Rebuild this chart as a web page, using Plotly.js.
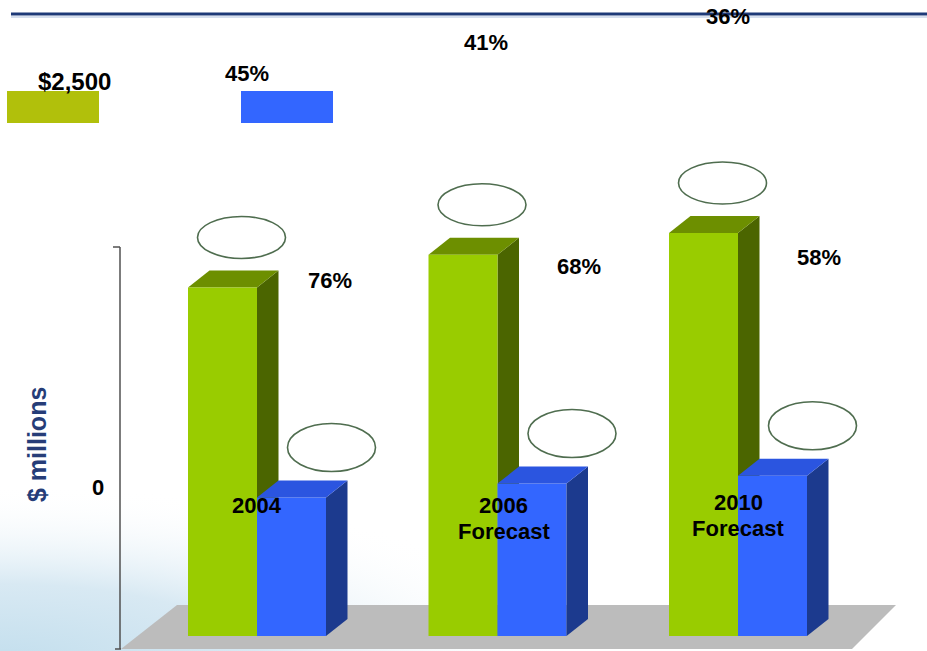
<!DOCTYPE html>
<html>
<head>
<meta charset="utf-8">
<script src="https://cdn.plot.ly/plotly-3.0.1.min.js"></script>
<style>
  html, body { margin: 0; padding: 0; background: #ffffff; }
  #chart { width: 927px; height: 651px; }
</style>
</head>
<body>
<div id="chart"></div>
<script>
// ---- chart data ----
const categories = ['2004', '2006', '2010'];
const categoryLabels = ['2004', '2006<br>Forecast', '2010<br>Forecast'];
const greenValues = [2240, 2450, 2590];   // $ millions
const blueValues = [890, 980, 1030];      // $ millions
const sideLabels = ['76%', '68%', '58%'];
const upperLabels = ['45%', '41%', '36%'];
const axisTickLabels = ['0', '$2,500'];
const axisTitle = '$ millions';

// ---- geometry of the drawing area ----
const W = 927, H = 651;
const GROUP_PX = 240.5;          // pixels between category centres
const GROUP0_PX = 257;           // pixel x of the first category
const UNIT_PX = 389 / 2500;      // pixels per $ million
const BASE_PX = 636;             // pixel y of the value 0
const BAR_W = 69 / GROUP_PX;     // bar width in category units
const DEPTH_X = 21.5 / GROUP_PX; // 3-D depth, horizontal
const DEPTH_Y = 17 / UNIT_PX;    // 3-D depth, vertical

const xRange = [-GROUP0_PX / GROUP_PX, (W - GROUP0_PX) / GROUP_PX];
const yRange = [-(H - BASE_PX) / UNIT_PX, BASE_PX / UNIT_PX];

const ux = px => px / GROUP_PX;       // pixel length -> x units
const uy = px => px / UNIT_PX;        // pixel length -> y units
const px = x => x / W;                // pixel x -> paper
const py = y => 1 - y / H;            // pixel y -> paper

// ---- colours ----
const GREEN = '#99cc00', GREEN_TOP = '#6d8f00', GREEN_SIDE = '#4b6500';
const BLUE = '#3366ff', BLUE_TOP = '#2b55e0', BLUE_SIDE = '#1c3a8e';
const RING = '#4f6d4f';
const TEXT_FONT = { family: 'Liberation Sans, Arial, sans-serif', size: 22, color: '#000000' };

const xs = categories.map((c, i) => i);

const traces = [
  {
    type: 'bar', name: 'green', x: xs, y: greenValues,
    width: BAR_W, offset: -BAR_W,
    marker: { color: GREEN, line: { width: 0 } },
    hoverinfo: 'skip'
  },
  {
    type: 'bar', name: 'blue', x: xs, y: blueValues,
    width: BAR_W, offset: 0,
    marker: { color: BLUE, line: { width: 0 } },
    hoverinfo: 'skip'
  }
];

function poly(points) {
  return 'M' + points.map(p => p[0] + ',' + p[1]).join('L') + 'Z';
}

const shapes = [];

// soft floor under the bars
shapes.push({
  type: 'path', xref: 'paper', yref: 'paper', layer: 'below',
  path: poly([[px(177), py(605)], [px(896), py(605)], [px(852), py(649)], [px(121), py(649)]]),
  fillcolor: '#bcbcbc', line: { width: 0 }
});

// top and side faces of the green bars (behind the blue bars)
xs.forEach((x, i) => {
  const v = greenValues[i];
  const x0 = x - BAR_W, x1 = x;
  shapes.push({
    type: 'path', xref: 'x', yref: 'y', layer: 'below',
    path: poly([[x1, v], [x1 + DEPTH_X, v + DEPTH_Y], [x1 + DEPTH_X, DEPTH_Y], [x1, 0]]),
    fillcolor: GREEN_SIDE, line: { width: 0 }
  });
  shapes.push({
    type: 'path', xref: 'x', yref: 'y', layer: 'below',
    path: poly([[x0, v], [x0 + DEPTH_X, v + DEPTH_Y], [x1 + DEPTH_X, v + DEPTH_Y], [x1, v]]),
    fillcolor: GREEN_TOP, line: { width: 0 }
  });
});

// top and side faces of the blue bars
xs.forEach((x, i) => {
  const v = blueValues[i];
  const x0 = x, x1 = x + BAR_W;
  shapes.push({
    type: 'path', xref: 'x', yref: 'y', layer: 'above',
    path: poly([[x1, v], [x1 + DEPTH_X, v + DEPTH_Y], [x1 + DEPTH_X, DEPTH_Y], [x1, 0]]),
    fillcolor: BLUE_SIDE, line: { width: 0 }
  });
  shapes.push({
    type: 'path', xref: 'x', yref: 'y', layer: 'above',
    path: poly([[x0, v], [x0 + DEPTH_X, v + DEPTH_Y], [x1 + DEPTH_X, v + DEPTH_Y], [x1, v]]),
    fillcolor: BLUE_TOP, line: { width: 0 }
  });
});

// empty value rings above each bar
function ring(cx, cy, rxPx, ryPx) {
  return {
    type: 'circle', xref: 'x', yref: 'y', layer: 'above',
    x0: cx - ux(rxPx), x1: cx + ux(rxPx), y0: cy - uy(ryPx), y1: cy + uy(ryPx),
    line: { color: RING, width: 1.6 }, fillcolor: 'rgba(0,0,0,0)'
  };
}
xs.forEach((x, i) => {
  shapes.push(ring(x - BAR_W / 2 + ux(19), greenValues[i] + uy(50), 44, 21));
  shapes.push(ring(x + BAR_W / 2 + ux(40), blueValues[i] + uy(50), 44, 24));
});

// vertical value axis with its two end ticks
shapes.push({ type: 'line', xref: 'paper', yref: 'y', x0: px(120), x1: px(120), y0: 2500, y1: -uy(13),
  line: { color: '#505050', width: 1.5 } });
shapes.push({ type: 'line', xref: 'paper', yref: 'y', x0: px(113), x1: px(120), y0: 2500, y1: 2500,
  line: { color: '#505050', width: 1.5 } });
shapes.push({ type: 'line', xref: 'paper', yref: 'paper', x0: px(115), x1: px(121), y0: py(649), y1: py(649),
  line: { color: '#505050', width: 1.5 } });

// heading rule
shapes.push({ type: 'line', xref: 'paper', yref: 'paper', x0: px(11), x1: 1, y0: py(17), y1: py(17),
  line: { color: '#c9d5e8', width: 1.5 } });
shapes.push({ type: 'line', xref: 'paper', yref: 'paper', x0: px(11), x1: 1, y0: py(14), y1: py(14),
  line: { color: '#1e3a78', width: 3 } });

// legend keys
shapes.push({ type: 'rect', xref: 'paper', yref: 'paper', x0: px(7), x1: px(99), y0: py(123), y1: py(91),
  fillcolor: '#b1c00b', line: { width: 0 } });
shapes.push({ type: 'rect', xref: 'paper', yref: 'paper', x0: px(241), x1: px(333), y0: py(123), y1: py(91),
  fillcolor: BLUE, line: { width: 0 } });

// ---- text ----
const annotations = [];
function label(text, xref, x, y, extra) {
  annotations.push(Object.assign({
    text: '<b>' + text + '</b>', xref: xref, yref: 'paper', x: x, y: y,
    xanchor: 'center', yanchor: 'middle', showarrow: false, font: TEXT_FONT
  }, extra || {}));
}

const sideLabelY = [280, 266, 257];
const sideLabelDX = [73, 81, 81];
const upperLabelY = [73, 43, 16];
const upperLabelDX = [-10, -12, -10];
const catLabelDX = [0, 6, 0];
const catLabelY = [505, 505, 502];
const CAT_LINE_GAP = 26;

xs.forEach((x, i) => {
  label(sideLabels[i], 'x', x + ux(sideLabelDX[i]), py(sideLabelY[i]));
  label(upperLabels[i], 'x', x + ux(upperLabelDX[i]), py(upperLabelY[i]));
  categoryLabels[i].split('<br>').forEach((line, k) => {
    label(line, 'x', x + ux(catLabelDX[i]), py(catLabelY[i] + k * CAT_LINE_GAP));
  });
});

label(axisTickLabels[0], 'paper', px(98), py(487));
label(axisTickLabels[1], 'paper', px(74), py(81), { font: Object.assign({}, TEXT_FONT, { size: 24 }) });
label(axisTitle, 'paper', px(37), py(445), {
  textangle: -90,
  font: { family: 'Liberation Sans, Arial, sans-serif', size: 25, color: '#263d78' }
});

// soft blue haze in the lower-left corner
const haze = '<svg xmlns="http://www.w3.org/2000/svg" width="927" height="651" viewBox="0 0 927 651">' +
  '<defs><radialGradient id="g" cx="50%" cy="50%" r="50%">' +
  '<stop offset="0" stop-color="#c2deed"/>' +
  '<stop offset="0.45" stop-color="#d8e9f3"/>' +
  '<stop offset="1" stop-color="#ffffff" stop-opacity="0"/>' +
  '</radialGradient></defs>' +
  '<ellipse cx="0" cy="665" rx="580" ry="180" fill="url(#g)"/></svg>';

const layout = {
  width: W, height: H,
  margin: { l: 0, r: 0, t: 0, b: 0, pad: 0 },
  paper_bgcolor: '#ffffff',
  plot_bgcolor: 'rgba(0,0,0,0)',
  barmode: 'overlay',
  showlegend: false,
  hovermode: false,
  xaxis: { range: xRange, visible: false, fixedrange: true },
  yaxis: { range: yRange, visible: false, fixedrange: true },
  shapes: shapes,
  annotations: annotations,
  images: [{
    source: 'data:image/svg+xml;charset=utf-8,' + encodeURIComponent(haze),
    xref: 'paper', yref: 'paper', x: 0, y: 1, sizex: 1, sizey: 1,
    sizing: 'stretch', xanchor: 'left', yanchor: 'top', layer: 'below'
  }]
};

Plotly.newPlot('chart', traces, layout, { displayModeBar: false, staticPlot: true });
</script>
</body>
</html>
